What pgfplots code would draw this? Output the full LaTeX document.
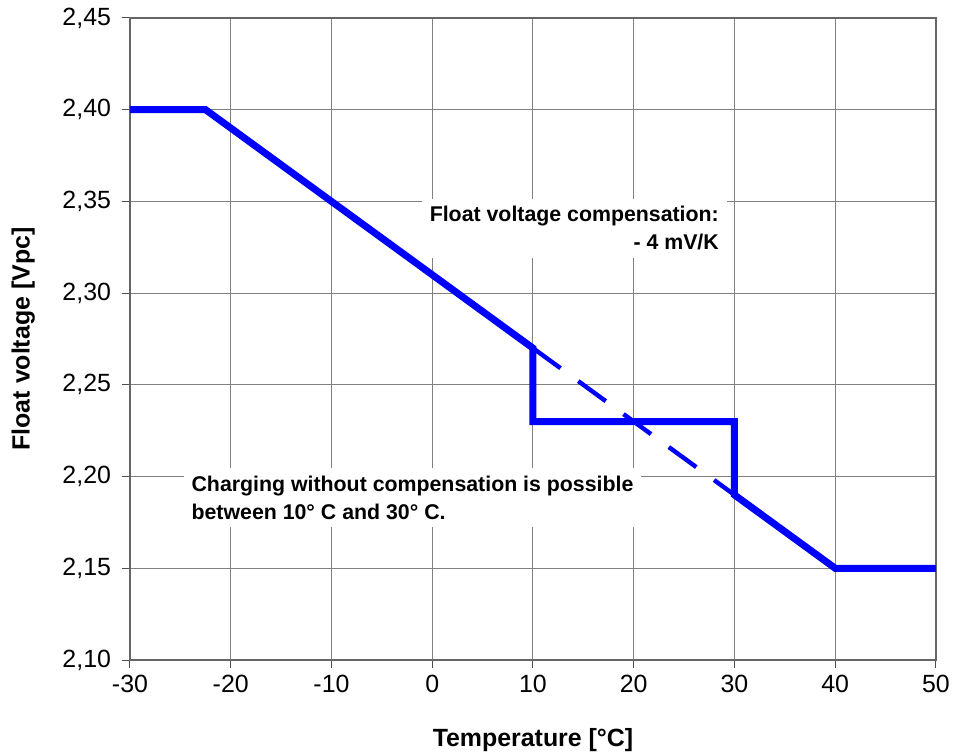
\documentclass[border=0pt]{standalone}
\usepackage{pgfplots}
\pgfplotsset{compat=1.18}
\usepackage{fontspec}
\setmainfont{Liberation Sans}
\definecolor{lineblue}{RGB}{0,0,255}
\begin{document}
\begin{tikzpicture}
\begin{axis}[
  at={(0,0)}, anchor=south west,
  scale only axis,
  width=403bp, height=321bp,
  xmin=-30, xmax=50, ymin=2.10, ymax=2.45,
  xtick={-30,-20,...,50},
  ytick={2.10,2.15,...,2.46},
  grid=major,
  grid style={black!50, line width=0.5bp},
  axis line style={black!60, line width=0.6bp},
  tick align=outside, tick pos=left,
  major tick length=4bp,
  tick style={black!70, line width=0.5bp},
  /pgf/number format/assume math mode=true,
  ticklabel style={font=\fontsize{12.5}{14}\selectfont},
  yticklabel style={xshift=-2bp, /pgf/number format/.cd, fixed, fixed zerofill, precision=2, use comma},
  xticklabel style={/pgf/number format/.cd, fixed, precision=0},
  xlabel={Temperature [°C]},
  ylabel={Float voltage [Vpc]},
  label style={font=\bfseries\fontsize{12.5}{14}\selectfont},
  xlabel style={yshift=-11bp},
  ylabel style={yshift=7bp},
  clip=false,
]
\addplot[lineblue, line width=3.5bp, line join=miter, line cap=butt] coordinates {
  (-30,2.40) (-22.5,2.40) (10,2.27) (10,2.23) (30,2.23) (30,2.19) (40,2.15) (50,2.15)
};
\addplot[lineblue, line width=2.2bp, dash pattern=on 17bp off 11bp] coordinates {
  (10,2.27) (30,2.19)
};
\node[fill=white, inner sep=4bp, align=right, font=\bfseries\fontsize{10.7}{14}\selectfont] at (axis cs:14.1,2.3353)
  {Float voltage compensation:\\- 4 mV/K};
\node[fill=white, inner sep=4bp, align=left, font=\bfseries\fontsize{10.7}{14}\selectfont] at (axis cs:-1.96,2.1886)
  {Charging without compensation is possible\\between 10° C and 30° C.};
\end{axis}
\pgfresetboundingbox
\path (-65bp,-48bp) rectangle (412.5bp,330bp);
\end{tikzpicture}
\end{document}
